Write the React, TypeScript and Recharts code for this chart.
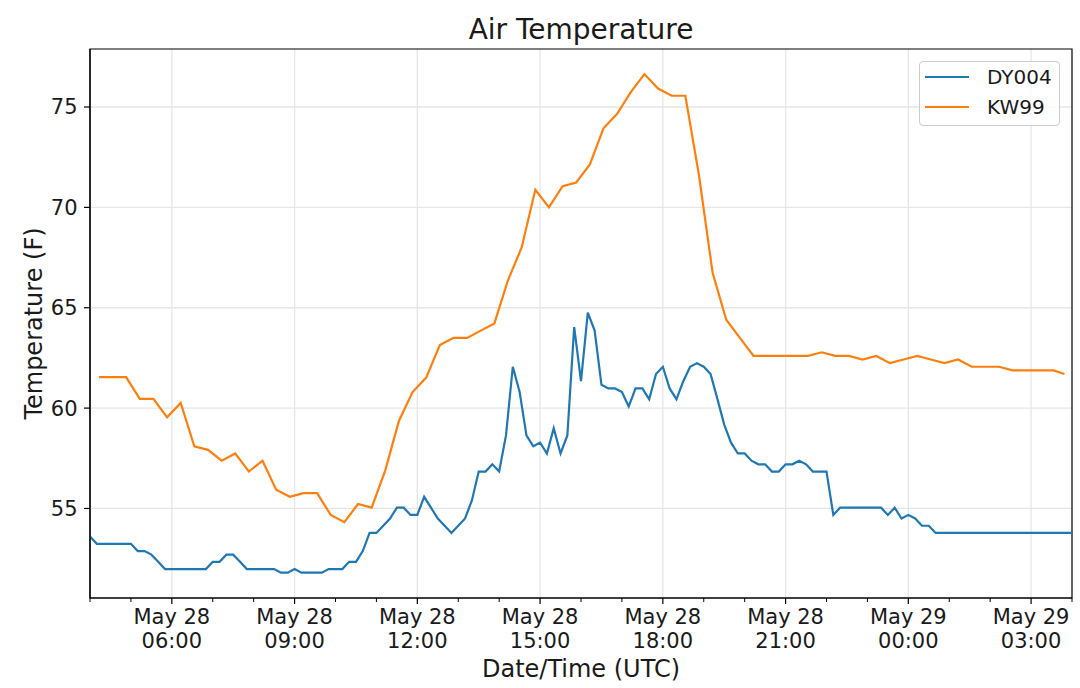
import { LineChart, Line, XAxis, YAxis, CartesianGrid, Legend, ReferenceArea, Label } from "recharts";

const FONT = "'DejaVu Sans', Verdana, sans-serif";

// x is minutes after May 28 04:00 UTC
const xDomain = [0, 1440];
const hourTicks = [
  0, 60, 120, 180, 240, 300, 360, 420, 480, 540, 600, 660, 720,
  780, 840, 900, 960, 1020, 1080, 1140, 1200, 1260, 1320, 1380, 1440,
];
const majorTicks = [120, 300, 480, 660, 840, 1020, 1200, 1380];
const majorDates = ["May 28", "May 28", "May 28", "May 28", "May 28", "May 28", "May 29", "May 29"];
const majorTimes = ["06:00", "09:00", "12:00", "15:00", "18:00", "21:00", "00:00", "03:00"];

const yDomain = [50.54, 77.89];
const yTicks = [55, 60, 65, 70, 75];

// DY004: one reading every 10 minutes from 04:00
const dy004StepMin = 10;
const dy004Temps = [
  53.6, 53.24, 53.24, 53.24, 53.24, 53.24, 53.24, 52.88, 52.88, 52.7,
  52.34, 51.98, 51.98, 51.98, 51.98, 51.98, 51.98, 51.98, 52.34, 52.34,
  52.7, 52.7, 52.34, 51.98, 51.98, 51.98, 51.98, 51.98, 51.8, 51.8,
  51.98, 51.8, 51.8, 51.8, 51.8, 51.98, 51.98, 51.98, 52.34, 52.34,
  52.88, 53.78, 53.78, 54.14, 54.5, 55.04, 55.04, 54.68, 54.68, 55.58,
  55.04, 54.5, 54.14, 53.78, 54.14, 54.5, 55.4, 56.84, 56.84, 57.2,
  56.84, 58.64, 62.06, 60.8, 58.64, 58.1, 58.28, 57.74, 59.0, 57.74,
  58.64, 64.04, 61.34, 64.76, 63.86, 61.16, 60.98, 60.98, 60.8, 60.08,
  60.98, 60.98, 60.44, 61.7, 62.06, 60.98, 60.44, 61.34, 62.06, 62.24,
  62.06, 61.7, 60.46, 59.18, 58.28, 57.74, 57.74, 57.38, 57.2, 57.2,
  56.84, 56.84, 57.2, 57.2, 57.38, 57.2, 56.84, 56.84, 56.84, 54.68,
  55.04, 55.04, 55.04, 55.04, 55.04, 55.04, 55.04, 54.68, 55.04, 54.5,
  54.68, 54.5, 54.14, 54.14, 53.78, 53.78, 53.78, 53.78, 53.78, 53.78,
  53.78, 53.78, 53.78, 53.78, 53.78, 53.78, 53.78, 53.78, 53.78, 53.78,
  53.78, 53.78, 53.78, 53.78, 53.78,
];

// KW99: readings roughly every 20 minutes
const kw99Minutes = [
  13, 33, 53, 73, 93, 113, 133, 153, 173, 193, 213, 233, 253, 273, 293,
  313, 333, 353, 373, 393, 413, 433, 453, 473, 493, 513, 533, 553, 573, 593,
  613, 633, 653, 673, 693, 713, 733, 753, 773, 793, 813, 833, 853, 873, 893,
  913, 933, 953, 973, 993, 1013, 1033, 1053, 1073, 1093, 1113, 1133, 1153, 1173, 1193,
  1213, 1233, 1253, 1273, 1293, 1313, 1333, 1353, 1373, 1393, 1413, 1429,
];
const kw99Temps = [
  61.54, 61.54, 61.54, 60.46, 60.46, 59.54, 60.26, 58.1, 57.92, 57.38, 57.74, 56.84, 57.38, 55.94, 55.58,
  55.76, 55.76, 54.68, 54.32, 55.22, 55.04, 56.9, 59.36, 60.8, 61.52, 63.14, 63.5, 63.5, 63.86, 64.22,
  66.38, 68.0, 70.88, 70.0, 71.06, 71.24, 72.14, 73.94, 74.66, 75.74, 76.64, 75.92, 75.56, 75.56, 71.6,
  66.74, 64.4, 63.5, 62.6, 62.6, 62.6, 62.6, 62.6, 62.78, 62.6, 62.6, 62.42, 62.6, 62.24, 62.42,
  62.6, 62.42, 62.24, 62.42, 62.06, 62.06, 62.06, 61.88, 61.88, 61.88, 61.88, 61.7,
];

const dy004 = dy004Temps.map((v, i) => ({ t: i * dy004StepMin, v }));
const kw99 = kw99Temps.map((v, i) => ({ t: kw99Minutes[i], v }));

const series = [
  { name: "DY004", color: "#1f77b4", data: dy004 },
  { name: "KW99", color: "#ff7f0e", data: kw99 },
];

function TimeTick({ x, y, payload }: any) {
  const i = majorTicks.indexOf(payload.value);
  if (i < 0) {
    return <line x1={x} y1={y} x2={x} y2={y + 4} stroke="#000" strokeWidth={1} />;
  }
  return (
    <g>
      <line x1={x} y1={y} x2={x} y2={y + 6} stroke="#000" strokeWidth={1.2} />
      <text x={x} y={y + 26} textAnchor="middle" fontSize={21} fontFamily={FONT} fill="#1a1a1a">
        {majorDates[i]}
      </text>
      <text x={x} y={y + 50} textAnchor="middle" fontSize={21} fontFamily={FONT} fill="#1a1a1a">
        {majorTimes[i]}
      </text>
    </g>
  );
}

function YTitle({ viewBox }: any) {
  const cx = viewBox.x + 42;
  const cy = viewBox.y + viewBox.height / 2;
  return (
    <text
      x={cx}
      y={cy}
      transform={`rotate(-90 ${cx} ${cy})`}
      textAnchor="middle"
      fontSize={24}
      fontFamily={FONT}
      fill="#1a1a1a"
    >
      Temperature (F)
    </text>
  );
}

function LegendBox() {
  return (
    <div
      style={{
        boxSizing: "border-box",
        width: 141,
        height: 65,
        border: "1px solid #cccccc",
        borderRadius: 4,
        background: "rgba(255,255,255,0.8)",
        fontFamily: FONT,
        fontSize: 20,
        color: "#1a1a1a",
      }}
    >
      {series.map((s) => (
        <div key={s.name} style={{ position: "relative", height: 30 }}>
          <svg width={60} height={30} style={{ position: "absolute", left: 0, top: 0 }}>
            <line x1={5} y1={15} x2={49} y2={15} stroke={s.color} strokeWidth={2} />
          </svg>
          <span style={{ position: "absolute", left: 67, top: 0, lineHeight: "30px" }}>{s.name}</span>
        </div>
      ))}
    </div>
  );
}

export default function App() {
  return (
    <div style={{ position: "absolute", left: 0, top: 0, width: 1080, height: 688, background: "#fff" }}>
      <div
        style={{
          position: "absolute",
          left: 90,
          top: 16,
          width: 982,
          textAlign: "center",
          fontFamily: FONT,
          fontSize: 28,
          lineHeight: "28px",
          color: "#1a1a1a",
        }}
      >
        Air Temperature
      </div>
      <LineChart width={1080} height={688} margin={{ top: 49, right: 8, bottom: 0, left: 0 }}>
        <CartesianGrid
          stroke="#e6e6e6"
          strokeWidth={1.3}
          verticalValues={majorTicks}
          horizontalValues={yTicks}
        />
        <XAxis
          dataKey="t"
          type="number"
          domain={xDomain}
          ticks={hourTicks}
          interval={0}
          allowDataOverflow
          height={90}
          tickSize={0}
          tickMargin={0}
          tickLine={false}
          axisLine={{ stroke: "#000", strokeWidth: 1.2 }}
          tick={<TimeTick />}
        >
          <Label
            value="Date/Time (UTC)"
            position="insideBottom"
            offset={11}
            style={{ fontSize: 24, fontFamily: FONT, fill: "#1a1a1a" }}
          />
        </XAxis>
        <YAxis
          type="number"
          domain={yDomain}
          ticks={yTicks}
          allowDataOverflow
          width={90}
          tickSize={6}
          tickMargin={6.5}
          tickLine={{ stroke: "#000", strokeWidth: 1.2 }}
          axisLine={{ stroke: "#000", strokeWidth: 1.2 }}
          tick={{ fontSize: 21, fontFamily: FONT, fill: "#1a1a1a" }}
        >
          <Label content={<YTitle />} />
        </YAxis>
        <ReferenceArea
          x1={xDomain[0]}
          x2={xDomain[1]}
          y1={yDomain[0]}
          y2={yDomain[1]}
          fill="none"
          stroke="#000"
          strokeWidth={1.2}
        />
        {series.map((s) => (
          <Line
            key={s.name}
            data={s.data}
            dataKey="v"
            name={s.name}
            type="linear"
            stroke={s.color}
            strokeWidth={2.2}
            dot={false}
            activeDot={false}
            isAnimationActive={false}
          />
        ))}
        <Legend
          layout="vertical"
          align="center"
          verticalAlign="middle"
          wrapperStyle={{ top: 61, left: 919, width: 141 }}
          content={<LegendBox />}
        />
      </LineChart>
    </div>
  );
}
